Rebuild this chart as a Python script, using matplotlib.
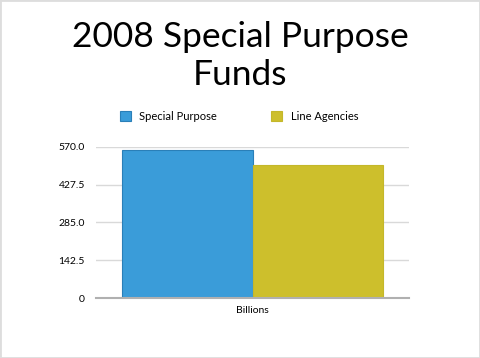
import matplotlib
matplotlib.use("Agg")
import matplotlib.pyplot as plt
from matplotlib.patches import Rectangle

series = ["Special Purpose", "Line Agencies"]
values = [560.0, 503.0]
category = "Billions"
yticks = [0, 142.5, 285.0, 427.5, 570.0]
ytick_labels = ["0", "142.5", "285.0", "427.5", "570.0"]
colors = ["#3a9cd9", "#cdbf2c"]
edges = ["#2a7fb8", "#c4b72a"]
title_lines = ["2008 Special Purpose", "Funds"]

plt.rcParams['font.family'] = ['Lato', 'DejaVu Sans']

fig = plt.figure(figsize=(4.8, 3.58), dpi=100)
fig.patch.set_facecolor("white")
ax = fig.add_axes([96/480, 1-298/358, (409-96)/480, (298-147)/358])

xs = [0, 1]
bars = ax.bar(xs, values, width=1.0, color=colors, edgecolor=edges, linewidth=0.8, zorder=3)
ax.set_xlim(-0.7, 1.7)
ax.set_ylim(0, 570)
ax.set_yticks(yticks)
ax.set_yticklabels(ytick_labels, fontsize=7.5)
ax.set_xticks([0.5])
ax.set_xticklabels([category], fontsize=7.5)
ax.tick_params(axis='y', length=0, pad=8)
ax.tick_params(axis='x', length=0, pad=6)
ax.yaxis.grid(True, color="#d9d9d9", linewidth=1.0, zorder=0)
for s in ["top", "right", "left"]:
    ax.spines[s].set_visible(False)
ax.spines["bottom"].set_color("#b0b0b0")
ax.spines["bottom"].set_linewidth(1.5)
ax.spines["bottom"].set_zorder(4)

fig.text(0.5, 1-47/358, title_lines[0], ha="center", va="baseline", fontsize=25.5, color="black")
fig.text(0.5, 1-85/358, title_lines[1], ha="center", va="baseline", fontsize=25.5, color="black")

leg = fig.legend(bars, series, loc="center", bbox_to_anchor=(239/480, 1-116/358),
                 ncol=2, frameon=False, fontsize=8, handlelength=1.0,
                 handleheight=1.0, columnspacing=4.9, handletextpad=0.75)

fig.add_artist(Rectangle((0, 0), 1, 1, transform=fig.transFigure, fill=False,
                         edgecolor="#dddddd", linewidth=2))

fig.savefig("out.png", dpi=100)
